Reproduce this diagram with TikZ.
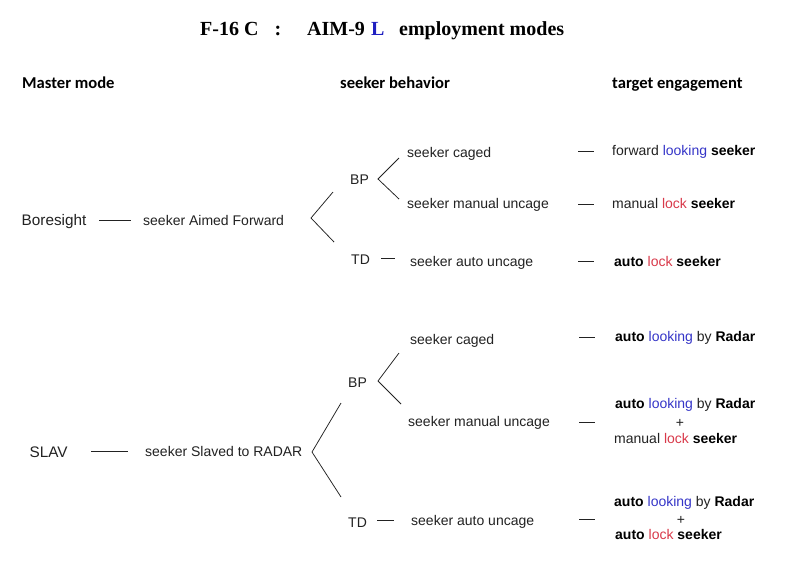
\documentclass[tikz,border=0pt]{standalone}
\usepackage{fontspec}
\setmainfont{Liberation Sans}
\newfontfamily\titlefont{Liberation Serif}
\newfontfamily\hdrfont{Carlito}
\definecolor{ink}{HTML}{222222}
\definecolor{lookblue}{HTML}{3535C8}
\definecolor{lockred}{HTML}{D9394A}
\definecolor{titleblue}{HTML}{1F1FC0}
\begin{document}
\begin{tikzpicture}[x=1pt,y=-1pt,
  txt/.style={anchor=base west,inner sep=0pt,text=ink,font=\fontsize{14}{16}\selectfont},
  bigtxt/.style={txt,font=\fontsize{15.3}{17}\selectfont},
  pluslbl/.style={anchor=base,inner sep=0pt,text=ink,font=\fontsize{14}{16}\selectfont},
  hdr/.style={anchor=base west,inner sep=0pt,text=black,font=\hdrfont\bfseries\fontsize{16.6}{18}\selectfont},
  ttl/.style={anchor=base west,inner sep=0pt,text=black,font=\titlefont\bfseries\fontsize{20}{22}\selectfont},
  conn/.style={draw=ink,line width=0.75pt}]
\useasboundingbox[fill=white] (0,0) rectangle (800,566);
% title
\node[ttl] (t1) at (200,35) {F-16 C};
\node[ttl] (t2) at (274.5,35) {:};
\node[ttl] (t3) at (307,35) {AIM-9};
\node[ttl,text=titleblue] (t4) at (371,35) {L};
\node[ttl] (t5) at (399,35) {employment modes};
% headers
\node[hdr] (h1) at (22,88) {Master mode};
\node[hdr] (h2) at (340,88) {seeker behavior};
\node[hdr] (h3) at (612,88) {target engagement};
% ---------- Boresight ----------
\node[bigtxt] (bore) at (21.5,225.5) {Boresight};
\node[txt] (aimed) at (143,225) {seeker Aimed Forward};
\coordinate (b1a) at (99,220); \coordinate (b1b) at (131,220);
\draw[conn] (b1a) -- (b1b);
\coordinate (bfA) at (311,218); \coordinate (bfU) at (333,192); \coordinate (bfD) at (334,242);
\draw[conn] (bfU) -- (bfA) -- (bfD);
\node[txt] (bbp) at (350,184) {BP};
\node[txt] (btd) at (351,264) {TD};
\coordinate (sfA) at (378,179); \coordinate (sfU) at (399,158); \coordinate (sfD) at (399,199);
\draw[conn] (sfU) -- (sfA) -- (sfD);
\coordinate (btdA) at (381,258); \coordinate (btdB) at (395,258);
\draw[conn] (btdA) -- (btdB);
\node[txt] (bcag) at (407,157) {seeker caged};
\node[txt] (bman) at (407,208) {seeker manual uncage};
\node[txt] (bauto) at (410,266) {seeker auto uncage};
\coordinate (bd1a) at (578,151); \coordinate (bd1b) at (594,151);
\coordinate (bd2a) at (578,204); \coordinate (bd2b) at (594,204);
\coordinate (bd3a) at (578,261); \coordinate (bd3b) at (594,261);
\draw[conn] (bd1a) -- (bd1b);
\draw[conn] (bd2a) -- (bd2b);
\draw[conn] (bd3a) -- (bd3b);
\node[txt] (br1) at (612,155) {forward \textcolor{lookblue}{looking} \textbf{\textcolor{black}{seeker}}};
\node[txt] (br2) at (612,208) {manual \textcolor{lockred}{lock} \textbf{\textcolor{black}{seeker}}};
\node[txt] (br3) at (614,266) {\textbf{\textcolor{black}{auto}} \textcolor{lockred}{lock} \textbf{\textcolor{black}{seeker}}};
% ---------- SLAV ----------
\node[bigtxt] (slav) at (29.5,457.5) {SLAV};
\node[txt] (slaved) at (145,456) {seeker Slaved to RADAR};
\coordinate (s1a) at (91,451); \coordinate (s1b) at (128,451);
\draw[conn] (s1a) -- (s1b);
\coordinate (lfA) at (312,452); \coordinate (lfU) at (341,403); \coordinate (lfD) at (341,497);
\draw[conn] (lfU) -- (lfA) -- (lfD);
\node[txt] (lbp) at (348,387) {BP};
\node[txt] (ltd) at (348,527) {TD};
\coordinate (tfA) at (378,381); \coordinate (tfU) at (399,353); \coordinate (tfD) at (401,404);
\draw[conn] (tfU) -- (tfA) -- (tfD);
\coordinate (ltdA) at (377,520); \coordinate (ltdB) at (394,520);
\draw[conn] (ltdA) -- (ltdB);
\node[txt] (lcag) at (410,344) {seeker caged};
\node[txt] (lman) at (408,426) {seeker manual uncage};
\node[txt] (lauto) at (411,525) {seeker auto uncage};
\coordinate (ld1a) at (579,337); \coordinate (ld1b) at (595,337);
\coordinate (ld2a) at (579,422); \coordinate (ld2b) at (595,422);
\coordinate (ld3a) at (579,519); \coordinate (ld3b) at (595,519);
\draw[conn] (ld1a) -- (ld1b);
\draw[conn] (ld2a) -- (ld2b);
\draw[conn] (ld3a) -- (ld3b);
\node[txt] (lr1) at (615,341) {\textbf{\textcolor{black}{auto}} \textcolor{lookblue}{looking} by \textbf{\textcolor{black}{Radar}}};
\node[txt] (lr2a) at (615,408) {\textbf{\textcolor{black}{auto}} \textcolor{lookblue}{looking} by \textbf{\textcolor{black}{Radar}}};
\node[pluslbl] (lr2p) at (680,427) {+};
\node[txt] (lr2b) at (614,443) {manual \textcolor{lockred}{lock} \textbf{\textcolor{black}{seeker}}};
\node[txt] (lr3a) at (614,506) {\textbf{\textcolor{black}{auto}} \textcolor{lookblue}{looking} by \textbf{\textcolor{black}{Radar}}};
\node[pluslbl] (lr3p) at (681,524) {+};
\node[txt] (lr3b) at (615,539) {\textbf{\textcolor{black}{auto}} \textcolor{lockred}{lock} \textbf{\textcolor{black}{seeker}}};
\end{tikzpicture}
\end{document}
